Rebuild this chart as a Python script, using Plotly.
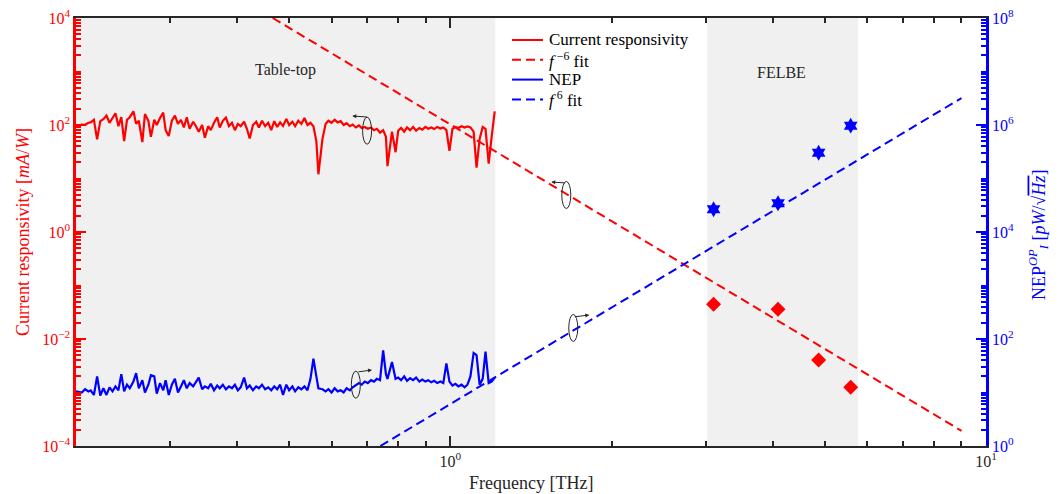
import numpy as np
import plotly.graph_objects as go

# Table-top spectrum: frequency grid (THz), current responsivity (mA/W), NEP (pW/sqrt(Hz))
freq_tt = [
    0.200, 0.203, 0.205, 0.208, 0.211, 0.213, 0.216, 0.219, 0.222, 0.225,
    0.228, 0.231, 0.234, 0.237, 0.240, 0.243, 0.246, 0.249, 0.252, 0.256,
    0.259, 0.262, 0.266, 0.269, 0.273, 0.276, 0.280, 0.283, 0.287, 0.291,
    0.294, 0.298, 0.302, 0.306, 0.310, 0.314, 0.318, 0.322, 0.326, 0.331,
    0.335, 0.339, 0.344, 0.348, 0.353, 0.357, 0.362, 0.367, 0.371, 0.376,
    0.381, 0.386, 0.391, 0.396, 0.401, 0.406, 0.412, 0.417, 0.422, 0.428,
    0.434, 0.439, 0.445, 0.451, 0.457, 0.463, 0.469, 0.475, 0.481, 0.487,
    0.494, 0.500, 0.507, 0.513, 0.520, 0.527, 0.534, 0.541, 0.548, 0.555,
    0.562, 0.567, 0.577, 0.585, 0.592, 0.600, 0.608, 0.616, 0.624, 0.632,
    0.640, 0.649, 0.657, 0.666, 0.675, 0.683, 0.692, 0.701, 0.711, 0.720,
    0.729, 0.739, 0.749, 0.758, 0.763, 0.778, 0.790, 0.799, 0.809, 0.820,
    0.830, 0.841, 0.852, 0.863, 0.875, 0.886, 0.898, 0.909, 0.921, 0.933,
    0.945, 0.958, 0.970, 0.983, 0.996, 1.009, 1.022, 1.035, 1.049, 1.063,
    1.076, 1.090, 1.105, 1.119, 1.134, 1.149, 1.163, 1.179, 1.194, 1.210,
]
resp_tt = [
    100, 98, 102, 101, 110, 112, 125, 54, 118, 128,
    150, 110, 135, 165, 95, 140, 50, 125, 140, 180,
    105, 120, 48, 160, 120, 60, 125, 100, 135, 170,
    80, 62, 120, 150, 105, 125, 90, 140, 85, 115,
    95, 75, 100, 58, 95, 80, 110, 140, 90, 120,
    138, 95, 110, 80, 105, 95, 115, 85, 56, 100,
    115, 90, 120, 95, 110, 80, 118, 92, 112, 96,
    130, 100, 115, 95, 120, 105, 135, 100, 110, 95,
    50, 12, 55, 105, 120, 110, 125, 112, 118, 100,
    108, 95, 102, 90, 98, 88, 92, 85, 90, 80,
    85, 72, 80, 60, 17, 75, 31, 78, 88, 75,
    90, 80, 92, 78, 88, 82, 92, 85, 90, 84,
    92, 86, 90, 80, 33, 85, 92, 88, 95, 90,
    94, 90, 75, 16, 55, 92, 85, 19, 60, 180,
]
nep_tt = [
    10.5, 10.2, 10, 11.5, 10.5, 11, 9, 20, 8.8, 12,
    9, 12.5, 10.5, 13, 11, 22, 10.5, 14, 12, 16,
    23, 12, 17, 10, 14, 21, 20, 9.5, 15, 11,
    17, 9, 14, 18, 10, 13, 17, 12, 15, 13,
    16, 19, 11.5, 13, 12, 14.5, 11, 13.5, 12, 14,
    11.5, 13, 12, 14, 11, 12.5, 19, 12, 13.5, 11,
    13, 12, 14, 11.5, 12.5, 11, 13, 11.5, 14, 9,
    14, 11, 13, 10.5, 12.5, 11.5, 13, 11, 18, 43,
    20, 12, 11.5, 10.5, 11.5, 10, 12, 10.5, 11, 10,
    12, 11, 12.5, 13.5, 15, 14, 16, 15, 17, 16,
    18, 17, 61, 22, 18, 37, 18, 19, 17, 20,
    16.5, 18.5, 17, 19, 16, 17.5, 16, 17, 15.5, 16.5,
    15, 16, 15, 35, 16, 13.5, 14.5, 13, 14, 12.5,
    14, 20, 55, 50, 14, 18, 58, 15, 16, 19,
]

# FELBE measurements
freq_fel = [3.10, 4.09, 4.87, 5.59]
resp_fel = [0.0446, 0.0359, 0.00404, 0.00125]
nep_fel = [2.66e4, 3.44e4, 3.03e5, 9.71e5]

# Power-law fit lines (end points)
fit_resp_f = [0.466, 9.0]
fit_resp_v = [1.0e4, 1.92e-4]
fit_nep_f = [0.74, 9.0]
fit_nep_v = [1.0, 3.19e6]

# Shaded frequency bands
band_tt = [0.2, 1.213]
band_fel = [3.016, 5.77]

# Tick labels
x_ticks = [1, 10]
x_ticktext = ["10<sup>0</sup>", "10<sup>1</sup>"]
y1_ticks = [1e-4, 1e-2, 1, 1e2, 1e4]
y1_ticktext = ["10<sup>−4</sup>", "10<sup>−2</sup>", "10<sup>0</sup>", "10<sup>2</sup>", "10<sup>4</sup>"]
y2_ticks = [1, 1e2, 1e4, 1e6, 1e8]
y2_ticktext = ["10<sup>0</sup>", "10<sup>2</sup>", "10<sup>4</sup>", "10<sup>6</sup>", "10<sup>8</sup>"]

RED = "#ff0000"
BLUE = "#0000ff"
DARK = "#262626"
BAND = "#f0f0f0"
FONT = "Liberation Serif"
DASH = "9px,5px"

# figure geometry (px)
W, H = 1064, 494
ML, MR, MT, MB = 76, 78, 18, 48
PW, PH = W - ML - MR, H - MT - MB
X_DECADES = 1 - np.log10(0.2)
PX_PER_XDEC = PW / X_DECADES
PX_PER_YDEC = PH / 8.0


def minor_vals(lo, hi, major_step):
    vals = []
    for e in range(lo, hi):
        for m in range(1, 10):
            if m == 1 and (e - lo) % major_step == 0:
                continue
            vals.append(m * 10.0 ** e)
    return vals


def px_to_paper(px, py):
    return (px - ML) / PW, 1 - (py - MT) / PH


fig = go.Figure()

fig.add_trace(go.Scatter(x=freq_tt, y=resp_tt, mode="lines", name="Current responsivity",
                         line=dict(color=RED, width=2.2), showlegend=False))
fig.add_trace(go.Scatter(x=fit_resp_f, y=fit_resp_v, mode="lines", name="f^-6 fit",
                         line=dict(color=RED, width=2, dash=DASH), showlegend=False))
fig.add_trace(go.Scatter(x=freq_tt, y=nep_tt, mode="lines", name="NEP", yaxis="y2",
                         line=dict(color=BLUE, width=2.2), showlegend=False))
fig.add_trace(go.Scatter(x=fit_nep_f, y=fit_nep_v, mode="lines", name="f^6 fit", yaxis="y2",
                         line=dict(color=BLUE, width=2, dash=DASH), showlegend=False))
fig.add_trace(go.Scatter(x=freq_fel, y=resp_fel, mode="markers", showlegend=False,
                         marker=dict(symbol="diamond", size=11.5, color=RED)))
fig.add_trace(go.Scatter(x=freq_fel, y=nep_fel, mode="markers", showlegend=False, yaxis="y2",
                         marker=dict(symbol="hexagram", size=12, color=BLUE)))

shapes = []
annotations = []
for lo, hi in (band_tt, band_fel):
    shapes.append(dict(type="rect", xref="x", yref="paper", x0=lo, x1=hi, y0=0, y1=1,
                       fillcolor=BAND, line=dict(width=0), layer="below"))

# axis indicators: small ellipse with an arrow pointing to the matching axis
ELL_W, ELL_H = 9, 27
indicators = [
    # (freq, value, yref, head freq, head value, tail dx, tail dy)
    (0.699, 78.3, "y", 0.656, 147, 16, 1),
    (1.646, 4.92, "y", 1.543, 8.6, 15, 1),
    (0.666, 14.0, "y2", 0.714, 26.3, -15, 2),
    (1.696, 161, "y2", 1.817, 281, -16, 2),
]
fx_half = 10 ** (ELL_W / 2 / PX_PER_XDEC)
fy_half = 10 ** (ELL_H / 2 / PX_PER_YDEC)
for fx, fy, yr, hx, hy, dx, dy in indicators:
    shapes.append(dict(type="circle", xref="x", yref=yr,
                       x0=fx / fx_half, x1=fx * fx_half, y0=fy / fy_half, y1=fy * fy_half,
                       line=dict(color=DARK, width=1)))
    annotations.append(dict(x=np.log10(hx), y=np.log10(hy), xref="x", yref=yr, text="",
                            showarrow=True, ax=dx, ay=dy, axref="pixel", ayref="pixel",
                            arrowhead=2, arrowsize=0.8, arrowwidth=1, arrowcolor=DARK,
                            standoff=0, startstandoff=0))

annotations.append(dict(x=np.log10(0.492), y=np.log10(1067), xref="x", yref="y", text="Table-top",
                        showarrow=False, font=dict(family=FONT, size=16, color=DARK)))
annotations.append(dict(x=np.log10(4.16), y=np.log10(938), xref="x", yref="y", text="FELBE",
                        showarrow=False, font=dict(family=FONT, size=16, color=DARK)))

# legend drawn as line samples + labels
legend_items = [
    ("Current responsivity", RED, "solid"),
    ("<i>f</i><sup> −6</sup> fit", RED, DASH),
    ("NEP", BLUE, "solid"),
    ("<i>f</i><sup> 6</sup> fit", BLUE, DASH),
]
LEG_X0, LEG_X1, LEG_TX, LEG_Y0, LEG_DY = 512, 543, 547, 40, 19.8
for i, (label, color, dash) in enumerate(legend_items):
    py = LEG_Y0 + i * LEG_DY
    x0, y = px_to_paper(LEG_X0, py)
    x1, _ = px_to_paper(LEG_X1, py)
    tx, _ = px_to_paper(LEG_TX, py)
    shapes.append(dict(type="line", xref="paper", yref="paper", x0=x0, x1=x1, y0=y, y1=y,
                       line=dict(color=color, width=2, dash=dash)))
    annotations.append(dict(x=tx, y=y, xref="paper", yref="paper", text=label, showarrow=False,
                            xanchor="left", yanchor="middle",
                            font=dict(family=FONT, size=17, color="black")))

# axis titles
axis_titles = [
    ("Frequency [THz]", 531, 483, 0, DARK),
    ("Current responsivity [<i>mA</i>/<i>W</i>]", 23, 232, -90, RED),
    ("NEP<sup><i>OP</i></sup><sub><i>I</i></sub> [<i>pW</i>/√<span style='text-decoration:overline'><i>Hz</i></span>]",
     1038, 235, -90, BLUE),
]
for text, px, py, ang, color in axis_titles:
    tx, ty = px_to_paper(px, py)
    annotations.append(dict(x=tx, y=ty, xref="paper", yref="paper", text=text, showarrow=False,
                            xanchor="center", yanchor="middle", textangle=ang,
                            font=dict(family=FONT, size=18, color=color)))

fig.update_layout(
    width=W, height=H,
    margin=dict(l=ML, r=MR, t=MT, b=MB, autoexpand=False),
    paper_bgcolor="white", plot_bgcolor="white",
    font=dict(family=FONT, size=16, color=DARK),
    shapes=shapes, annotations=annotations,
    showlegend=False,
    xaxis=dict(type="log", range=[np.log10(0.2), 1], showgrid=False, zeroline=False, automargin=False,
               showline=True, linecolor=DARK, linewidth=1.5, mirror="ticks",
               ticks="inside", ticklen=10, tickwidth=1.5, tickcolor=DARK,
               tickvals=x_ticks, ticktext=x_ticktext, ticklabelstandoff=0,
               tickfont=dict(family=FONT, size=16, color=DARK),
               minor=dict(tickvals=[0.3, 0.4, 0.5, 0.6, 0.7, 0.8, 0.9, 2, 3, 4, 5, 6, 7, 8, 9],
                          ticks="inside", ticklen=5, tickwidth=1.5, tickcolor=DARK)),
    yaxis=dict(type="log", range=[-4, 4], showgrid=False, zeroline=False, automargin=False,
               showline=True, linecolor=RED, linewidth=2.5, mirror=False,
               ticks="inside", ticklen=10, tickwidth=1.5, tickcolor=RED,
               tickvals=y1_ticks, ticktext=y1_ticktext,
               tickfont=dict(family=FONT, size=16, color=RED),
               minor=dict(tickvals=minor_vals(-4, 4, 2), ticks="inside", ticklen=5,
                          tickwidth=1.5, tickcolor=RED)),
    yaxis2=dict(type="log", range=[0, 8], overlaying="y", side="right", showgrid=False, zeroline=False,
                automargin=False,
                showline=True, linecolor=BLUE, linewidth=2.5, mirror=False,
                ticks="inside", ticklen=10, tickwidth=1.5, tickcolor=BLUE,
                tickvals=y2_ticks, ticktext=y2_ticktext,
                tickfont=dict(family=FONT, size=16, color=BLUE),
                minor=dict(tickvals=minor_vals(0, 8, 2), ticks="inside", ticklen=5,
                           tickwidth=1.5, tickcolor=BLUE)),
)

fig.write_html("out.html")
